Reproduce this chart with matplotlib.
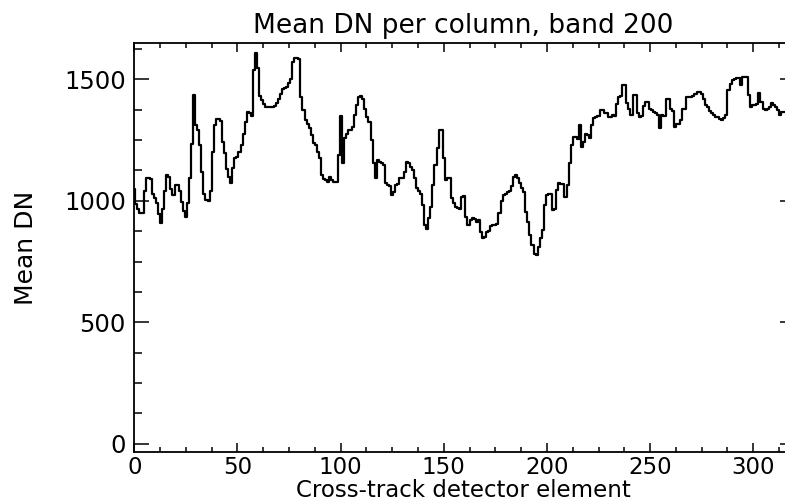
import numpy as np
import matplotlib
matplotlib.use('Agg')
import matplotlib.pyplot as plt
from matplotlib.ticker import MultipleLocator

# Mean DN per cross-track column (band 200)
mean_dn = [
    1050, 985, 965, 950, 950, 1040, 1095, 1095, 1090, 1030,
    1010, 990, 945, 910, 965, 1040, 1106, 1100, 1050, 1025,
    1065, 1065, 1040, 995, 960, 935, 990, 1092, 1236, 1435,
    1312, 1291, 1229, 1120, 1030, 1003, 1000, 1040, 1202, 1312,
    1336, 1336, 1330, 1243, 1195, 1133, 1100, 1075, 1135, 1177,
    1180, 1202, 1229, 1277, 1325, 1367, 1360, 1350, 1540, 1610,
    1545, 1430, 1415, 1400, 1387, 1385, 1387, 1385, 1390, 1401,
    1421, 1440, 1460, 1465, 1470, 1485, 1500, 1570, 1586, 1590,
    1585, 1428, 1373, 1332, 1318, 1298, 1271, 1240, 1230, 1202,
    1175, 1106, 1090, 1085, 1078, 1099, 1085, 1078, 1078, 1188,
    1350, 1154, 1257, 1277, 1291, 1291, 1305, 1353, 1394, 1428,
    1430, 1421, 1380, 1346, 1325, 1250, 1154, 1092, 1168, 1161,
    1155, 1147, 1072, 1065, 1060, 1024, 1037, 1065, 1070, 1092,
    1095, 1120, 1161, 1155, 1140, 1127, 1092, 1051, 1040, 1030,
    982, 900, 886, 928, 976, 1065, 1147, 1216, 1291, 1291,
    1175, 1085, 1092, 1092, 1010, 990, 976, 969, 965, 1017,
    1020, 934, 900, 920, 928, 925, 914, 920, 873, 845,
    850, 873, 875, 895, 900, 900, 905, 948, 1000, 1024,
    1030, 1035, 1040, 1060, 1099, 1106, 1095, 1072, 1051, 1037,
    955, 914, 859, 818, 783, 775, 810, 845, 880, 982,
    1024, 1030, 1030, 962, 965, 1044, 1072, 1070, 1068, 1017,
    1065, 1154, 1229, 1264, 1264, 1255, 1312, 1223, 1243, 1277,
    1270, 1257, 1312, 1339, 1346, 1350, 1373, 1375, 1360, 1362,
    1346, 1346, 1353, 1350, 1400, 1428, 1430, 1476, 1476, 1401,
    1380, 1353, 1435, 1435, 1360, 1346, 1350, 1390, 1408, 1408,
    1380, 1375, 1367, 1360, 1355, 1300, 1355, 1350, 1421, 1421,
    1380, 1370, 1305, 1318, 1318, 1332, 1380, 1380, 1428, 1428,
    1428, 1430, 1440, 1449, 1449, 1440, 1420, 1395, 1387, 1370,
    1360, 1355, 1346, 1346, 1335, 1332, 1340, 1353, 1456, 1480,
    1497, 1500, 1504, 1504, 1476, 1511, 1511, 1511, 1435, 1387,
    1394, 1394, 1400, 1442, 1408, 1380, 1373, 1380, 1387, 1401,
    1395, 1387, 1375, 1353, 1367, 1367,
]
xticks = [0, 50, 100, 150, 200, 250, 300]
yticks = [0, 500, 1000, 1500]

W, H = 785, 503
fig = plt.figure(figsize=(W / 100, H / 100), dpi=100)
plt.rcParams['font.family'] = 'DejaVu Sans'

# axes box in pixels; right spine sits just off the canvas like the original
left, right, top, bottom = 134.3, 794.5, 42.7, 452.0
ax = fig.add_axes([left / W, 1 - bottom / H, (right - left) / W, (bottom - top) / H])

cols = np.arange(len(mean_dn))
ax.plot(cols, mean_dn, drawstyle='steps-mid', color='black', linewidth=1.6)

ax.set_xlim(0, 320)
ax.set_ylim(-34, 1651)
ax.set_xticks(xticks)
ax.set_yticks(yticks)
ax.xaxis.set_minor_locator(MultipleLocator(12.5))
ax.yaxis.set_minor_locator(MultipleLocator(125))

ax.tick_params(axis='both', which='both', direction='in', top=True, right=True,
               color='black', width=1.1, labelsize=17.5)
ax.tick_params(axis='x', which='major', length=6.5, pad=3, labelsize=16.5)
ax.tick_params(axis='x', which='minor', length=3.3)
ax.tick_params(axis='y', which='major', length=11, pad=6)
ax.tick_params(axis='y', which='minor', length=5.8)
for sp in ax.spines.values():
    sp.set_linewidth(1.3)

fig.text(463 / W, 1 - 33 / H, 'Mean DN per column, band 200', ha='center',
         va='baseline', fontsize=19)
fig.text(463 / W, 1 / H, 'Cross-track detector element', ha='center',
         va='bottom', fontsize=16.5)
fig.text(26 / W, 1 - 247.5 / H, 'Mean DN', ha='center', va='center',
         rotation=90, fontsize=18)

fig.savefig('out.png', dpi=100)
